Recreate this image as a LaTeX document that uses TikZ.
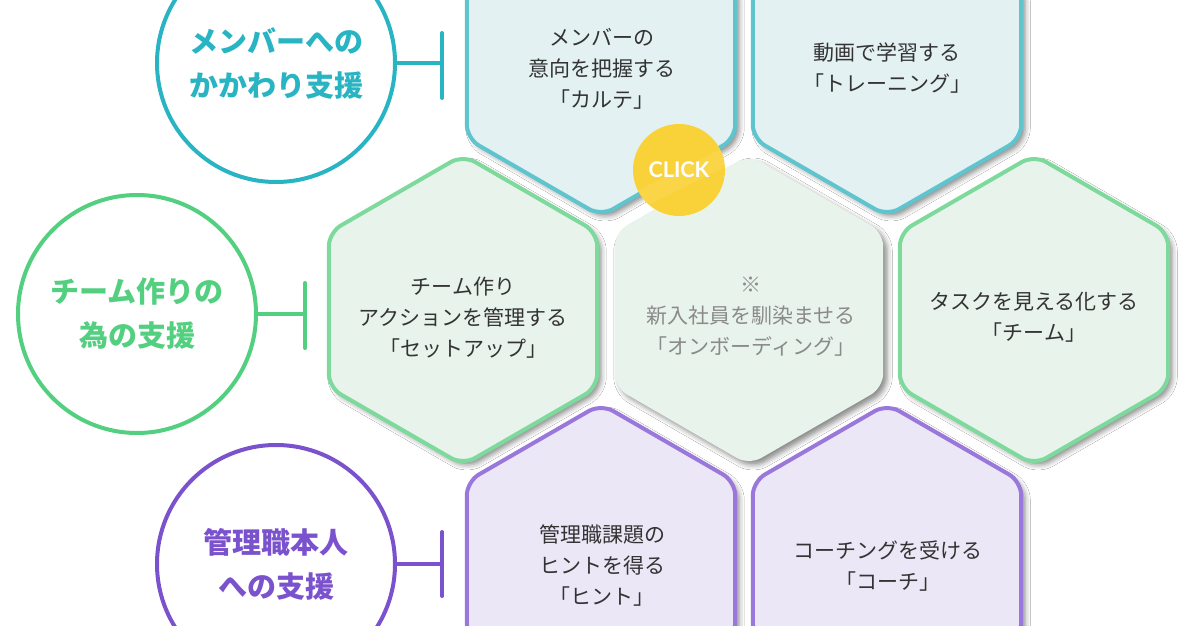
\documentclass[tikz,border=0pt]{standalone}
\usepackage{fontspec}
\setmainfont{Lato}
\newfontfamily\jp{Noto Sans CJK JP}
\usetikzlibrary{shadows.blur}
\definecolor{tealC}{HTML}{29B4C3}
\definecolor{tealS}{HTML}{5EC4CE}
\definecolor{tealF}{HTML}{E3F1F3}
\definecolor{greenC}{HTML}{52CF7F}
\definecolor{greenS}{HTML}{7ED99C}
\definecolor{greenF}{HTML}{E8F4EB}
\definecolor{purpC}{HTML}{7B52CD}
\definecolor{purpS}{HTML}{9A77DB}
\definecolor{purpF}{HTML}{EBE7F6}
\definecolor{txt}{HTML}{333333}
\definecolor{grtxt}{HTML}{8A8A8A}
\definecolor{clickY}{HTML}{F9D23A}
\newcommand\hexat[3]{%
  \path[#3] ([shift={(#1,#2)}]90:155) -- ([shift={(#1,#2)}]30:155) -- ([shift={(#1,#2)}]-30:155)
   -- ([shift={(#1,#2)}]-90:155) -- ([shift={(#1,#2)}]-150:155) -- ([shift={(#1,#2)}]150:155) -- cycle;}
\tikzset{
  hexbase/.style={line width=2pt, rounded corners=7pt,
    blur shadow={shadow xshift=2pt, shadow yshift=-2pt, shadow blur radius=2.5pt, shadow opacity=45}},
  hexT/.style={hexbase, draw=tealS, fill=tealF},
  hexG/.style={hexbase, draw=greenS, fill=greenF},
  hexP/.style={hexbase, draw=purpS, fill=purpF},
  hexC/.style={hexbase, fill=greenF},
  hextext/.style={font={\jp\fontsize{10.5pt}{15.5pt}\selectfont}, text=txt, align=center, inner sep=0},
  circ/.style={circle, line width=2pt, minimum size=119pt, inner sep=0, fill=white, align=center,
    font={\jp\bfseries\fontsize{14.5pt}{22pt}\selectfont}},
  tee/.style={line width=2pt, line cap=round},
}
\begin{document}
\begin{tikzpicture}[x=0.5pt, y=-0.5pt]
\useasboundingbox (0,0) rectangle (1200,626);
\fill[white] (0,0) rectangle (1200,626);
% hexagons
\hexat{601}{61}{hexT}
\hexat{887}{61}{hexT}
\hexat{463}{310}{hexG}
\hexat{749}{310}{hexC}
\hexat{1034}{310}{hexG}
\hexat{601}{559}{hexP}
\hexat{887}{559}{hexP}
% hex texts
\node[hextext] (h1) at (602,69) {メンバーの\\意向を把握する\\「カルテ」};
\node[hextext] (h2) at (887,68) {動画で学習する\\「トレーニング」};
\node[hextext] (h3) at (463,318) {チーム作り\\アクションを管理する\\「セットアップ」};
\node[hextext, text=grtxt] (h4) at (751,317) {{\bfseries ※}\\新入社員を馴染ませる\\「オンボーディング」};
\node[hextext] (h5) at (1034,317) {タスクを見える化する\\「チーム」};
\node[hextext] (h6) at (602,566) {管理職課題の\\ヒントを得る\\「ヒント」};
\node[hextext] (h7) at (888,566) {コーチングを受ける\\「コーチ」};
% circles
\node[circ, draw=tealC, text=tealC] (c1) at (276,63) {メンバーへの\\かかわり支援};
\node[circ, draw=greenC, text=greenC] (c2) at (137,314) {チーム作りの\\為の支援};
\node[circ, draw=purpC, text=purpC] (c3) at (276,564) {管理職本人\\への支援};
% tees
\coordinate (b1t) at (442,33); \coordinate (b1b) at (442,98);
\coordinate (b2t) at (305,283); \coordinate (b2b) at (305,348);
\coordinate (b3t) at (442,532); \coordinate (b3b) at (442,596);
\draw[tee, tealC] (c1.east) -- (c1.east -| b1t);
\draw[tee, tealC] (b1t) -- (b1b);
\draw[tee, greenC] (c2.east) -- (c2.east -| b2t);
\draw[tee, greenC] (b2t) -- (b2b);
\draw[tee, purpC] (c3.east) -- (c3.east -| b3t);
\draw[tee, purpC] (b3t) -- (b3b);
% click
\node[circle, fill=clickY, minimum size=46pt, inner sep=0] (click) at (679,170) {};
\begin{scope}
\clip (click.center) circle (46);
\fill[white, opacity=0.07] ($(click.center)+(-60,30)$) -- ($(click.center)+(60,-30)$) -- ($(click.center)+(60,-10)$) -- ($(click.center)+(-60,50)$) -- cycle;
\end{scope}
\node[text=white, font=\bfseries\fontsize{10.8pt}{10.8pt}\selectfont] (clicktxt) at (click.center) {CLICK};
\end{tikzpicture}
\end{document}
